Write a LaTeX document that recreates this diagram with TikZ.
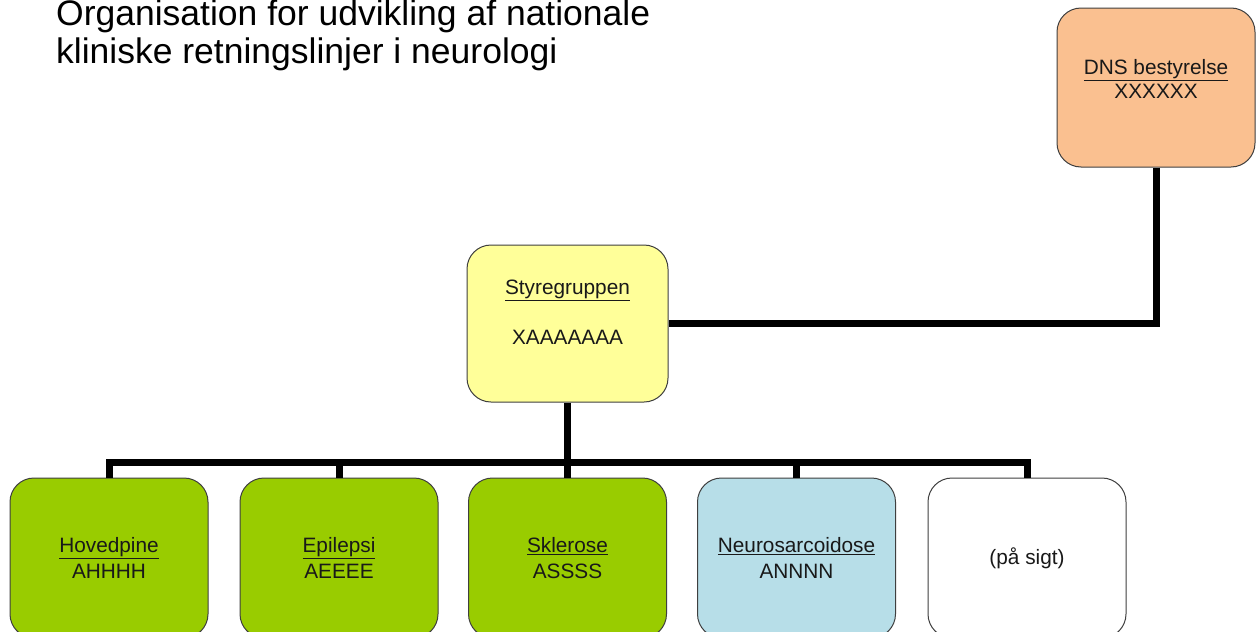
\documentclass[tikz,border=0pt]{standalone}
\usepackage{fontspec}
\setmainfont{Liberation Sans}
\definecolor{boxgreen}{HTML}{99CC00}
\definecolor{boxcyan}{HTML}{B7DEE8}
\definecolor{boxorange}{HTML}{FAC090}
\definecolor{boxyellow}{HTML}{FFFF99}
\definecolor{boxedge}{HTML}{3F3F3F}
\begin{document}
\begin{tikzpicture}[x=1pt,y=-1pt,
  orgbox/.style={draw=boxedge, line width=1pt, rounded corners=24pt, align=center,
    minimum width=198pt, minimum height=160pt, inner sep=0pt,
    font=\fontsize{20.8}{26}\selectfont, text=black!90},
  conn/.style={line width=7pt, black, line join=miter}]
\useasboundingbox (0,0) rectangle (1256,632);
\fill[white] (0,0) rectangle (1256,632);
\begin{scope}
\clip (0,0) rectangle (1256,632);
% title
\node[anchor=base west, align=left, inner sep=0pt, font=\fontsize{35.5}{38}\selectfont]
  (title) at (56,63) {Organisation for udvikling af nationale\\kliniske retningslinjer i neurologi};
% boxes
\node[orgbox, fill=boxorange, minimum height=159pt] (dns) at (1156,87.5)
  {\underline{DNS bestyrelse}\\[-2pt]XXXXXX\\[-17pt]\strut};
\node[orgbox, fill=boxyellow, minimum width=201pt, minimum height=157pt] (sty) at (567.5,323.5)
  {\underline{Styregruppen}\\[24pt]XAAAAAAA\\[-11pt]\strut};
\node[orgbox, fill=boxgreen] (hov) at (109,558) {\underline{Hovedpine}\\AHHHH};
\node[orgbox, fill=boxgreen] (epi) at (339,558) {\underline{Epilepsi}\\AEEEE};
\node[orgbox, fill=boxgreen] (skl) at (567.5,558) {\underline{Sklerose}\\ASSSS};
\node[orgbox, fill=boxcyan] (neu) at (796.5,558) {\underline{Neurosarcoidose}\\ANNNN};
\node[orgbox, fill=white] (sigt) at (1027,558) {(på sigt)};
% connectors
\coordinate (bus) at (0,462);
\draw[conn] (dns.south) |- (sty.east);
\draw[conn] (sty.south) -- (skl.north);
\draw[conn] (hov.north) -- (hov.north |- bus) -- (sigt.north |- bus) -- (sigt.north);
\draw[conn] (epi.north) -- (epi.north |- bus);
\draw[conn] (neu.north) -- (neu.north |- bus);
\end{scope}
\end{tikzpicture}
\end{document}
